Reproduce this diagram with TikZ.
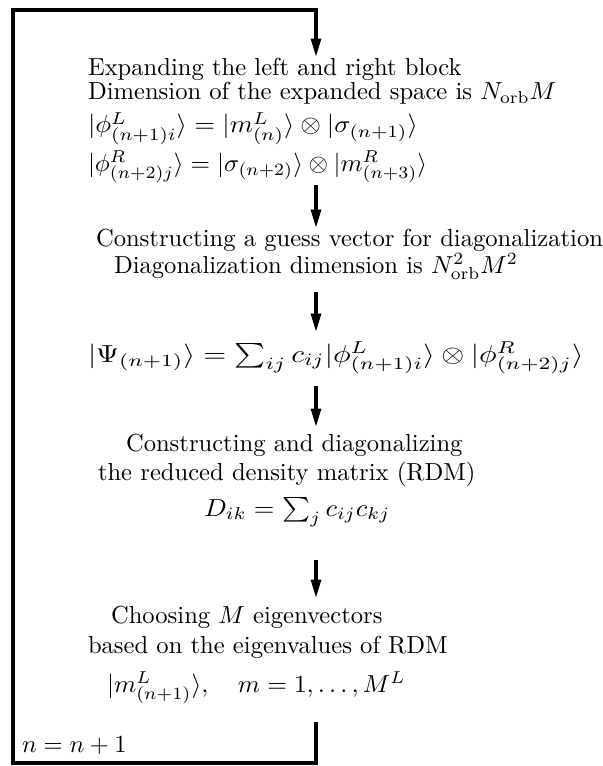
\documentclass[tikz,border=0pt]{standalone}
\usetikzlibrary{arrows.meta}
\begin{document}
\begin{tikzpicture}[x=0.4065pt,y=-0.4065pt,
  txt/.style={anchor=base west,inner sep=0pt,outer sep=0pt},
  loopline/.style={line width=1.4pt,line join=miter},
  flow/.style={line width=1.4pt,-{Triangle[length=7.5pt,width=4pt]}}]
\useasboundingbox (0,0) rectangle (602,766);
% text lines
\node[txt] (t1) at (88,76) {Expanding the left and right block};
\node[txt] (t2) at (88,100) {Dimension of the expanded space is $N_{\rm orb}M$};
\node[txt] (t3) at (88,133) {\scalebox{1.08}[1]{$|\phi^L_{(n+1)i}\rangle = |m^L_{(n)}\rangle \otimes |\sigma_{(n+1)}\rangle$}};
\node[txt] (t4) at (88,171) {\scalebox{1.02}[1]{$|\phi^R_{(n+2)j}\rangle = |\sigma_{(n+2)}\rangle \otimes |m^R_{(n+3)}\rangle$}};
\node[txt] (t5) at (96,246) {Constructing a guess vector for diagonalization};
\node[txt] (t6) at (114,273) {Diagonalization dimension is $N^2_{\rm orb}M^2$};
\node[txt] (t7) at (88,362) {\scalebox{1.2}[1]{$|\Psi_{(n+1)}\rangle = \sum_{ij} c_{ij} |\phi^L_{(n+1)i}\rangle \otimes |\phi^R_{(n+2)j}\rangle$}};
\node[txt] (t8) at (126,451) {Constructing and diagonalizing};
\node[txt] (t9) at (98,480) {the reduced density matrix (RDM)};
\node[txt] (t10) at (204,516) {\scalebox{1.08}[1]{$D_{ik} = \sum_j c_{ij}c_{kj}$}};
\node[txt] (t11) at (111,623) {Choosing $M$ eigenvectors};
\node[txt] (t12) at (88,653) {based on the eigenvalues of RDM};
\node[txt] (t13) at (107,692) {\scalebox{1.03}[1]{$|m^L_{(n+1)}\rangle, \quad m=1,\ldots,M^L$}};
\node[txt] (t14) at (22,752) {$n=n+1$};
% connector coordinates
\coordinate (topR) at (316,10);
\coordinate (topL) at (13,10);
\coordinate (botL) at (13,763);
\coordinate (botR) at (316,763);
\coordinate (botS) at (316,722);
\coordinate (a1e) at (316,57);
\coordinate (a2s) at (316,185);
\coordinate (a2e) at (316,228);
\coordinate (a3s) at (316,292);
\coordinate (a3e) at (316,332);
\coordinate (a4s) at (316,386);
\coordinate (a4e) at (316,427);
\coordinate (a5s) at (316,560);
\coordinate (a5e) at (316,598);
% loop and arrows
\draw[loopline,flow] (botS) -- (botR) -- (botL) -- (topL) -- (topR) -- (a1e);
\draw[flow] (a2s) -- (a2e);
\draw[flow] (a3s) -- (a3e);
\draw[flow] (a4s) -- (a4e);
\draw[flow] (a5s) -- (a5e);
\end{tikzpicture}
\end{document}
